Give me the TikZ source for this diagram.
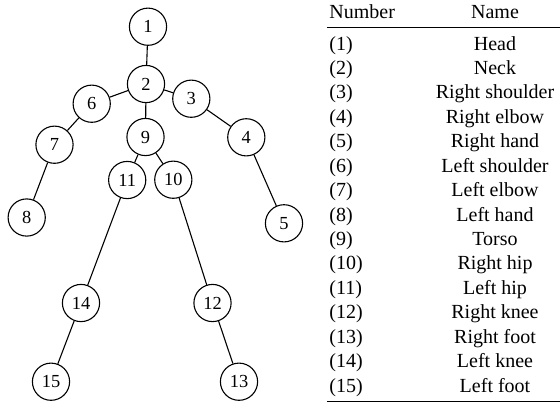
\documentclass[tikz,border=0pt]{standalone}
\usepackage{fontspec}
\setmainfont{Liberation Serif}
\begin{document}
\begin{tikzpicture}[x=0.5pt,y=-0.5pt,
  joint/.style={circle,draw,line width=0.55pt,minimum size=18.6pt,inner sep=0pt,font=\fontsize{9.2}{10}\selectfont},
  bone/.style={line width=0.55pt},
  cell/.style={inner sep=0pt,font=\fontsize{10}{12}\selectfont},
  numcell/.style={cell,anchor=base west},
  namecell/.style={cell,anchor=base}]
\useasboundingbox (0,0) rectangle (560,404);
% skeleton joints
\node[joint] (n1)  at (148,26.7)  {1};
\node[joint] (n2)  at (146,84)    {2};
\node[joint] (n3)  at (191.3,98.7){3};
\node[joint] (n4)  at (246.3,137.3){4};
\node[joint] (n5)  at (284,223.3) {5};
\node[joint] (n6)  at (91.7,103.7){6};
\node[joint] (n7)  at (54.5,144.7){7};
\node[joint] (n8)  at (26.7,217.5){8};
\node[joint] (n9)  at (145.5,137) {9};
\node[joint] (n10) at (173.3,179.7){10};
\node[joint] (n11) at (127.2,180) {11};
\node[joint] (n12) at (212.5,303) {12};
\node[joint] (n13) at (239,381.7) {13};
\node[joint] (n14) at (81,303)    {14};
\node[joint] (n15) at (51,381.7)  {15};
% bones
\draw[bone] (n1) -- (n2);
\draw[bone] (n2) -- (n6);
\draw[bone] (n2) -- (n3);
\draw[bone] (n2) -- (n9);
\draw[bone] (n6) -- (n7);
\draw[bone] (n7) -- (n8);
\draw[bone] (n3) -- (n4);
\draw[bone] (n4) -- (n5);
\draw[bone] (n9) -- (n11);
\draw[bone] (n9) -- (n10);
\draw[bone] (n11) -- (n14);
\draw[bone] (n14) -- (n15);
\draw[bone] (n10) -- (n12);
\draw[bone] (n12) -- (n13);
% legend table
\node[numcell]  (hnum)  at (329,18) {Number};
\node[namecell] (hname) at (495,18) {Name};
\coordinate (rtl) at (327,27.5);
\coordinate (rtr) at (560,27.5);
\draw[line width=0.6pt] (rtl) -- (rtr);
\foreach \k/\nm in {1/Head,2/Neck,3/Right shoulder,4/Right elbow,5/Right hand,
  6/Left shoulder,7/Left elbow,8/Left hand,9/Torso,10/Right hip,11/Left hip,
  12/Right knee,13/Right foot,14/Left knee,15/Left foot}{
  \node[numcell]  (num\k)  at (329,{50+(\k-1)*24.43}) {(\k)};
  \node[namecell] (name\k) at (495,{50+(\k-1)*24.43}) {\nm};
}
\coordinate (rbl) at (327,401.5);
\coordinate (rbr) at (560,401.5);
\draw[line width=0.9pt] (rbl) -- (rbr);
\end{tikzpicture}
\end{document}
